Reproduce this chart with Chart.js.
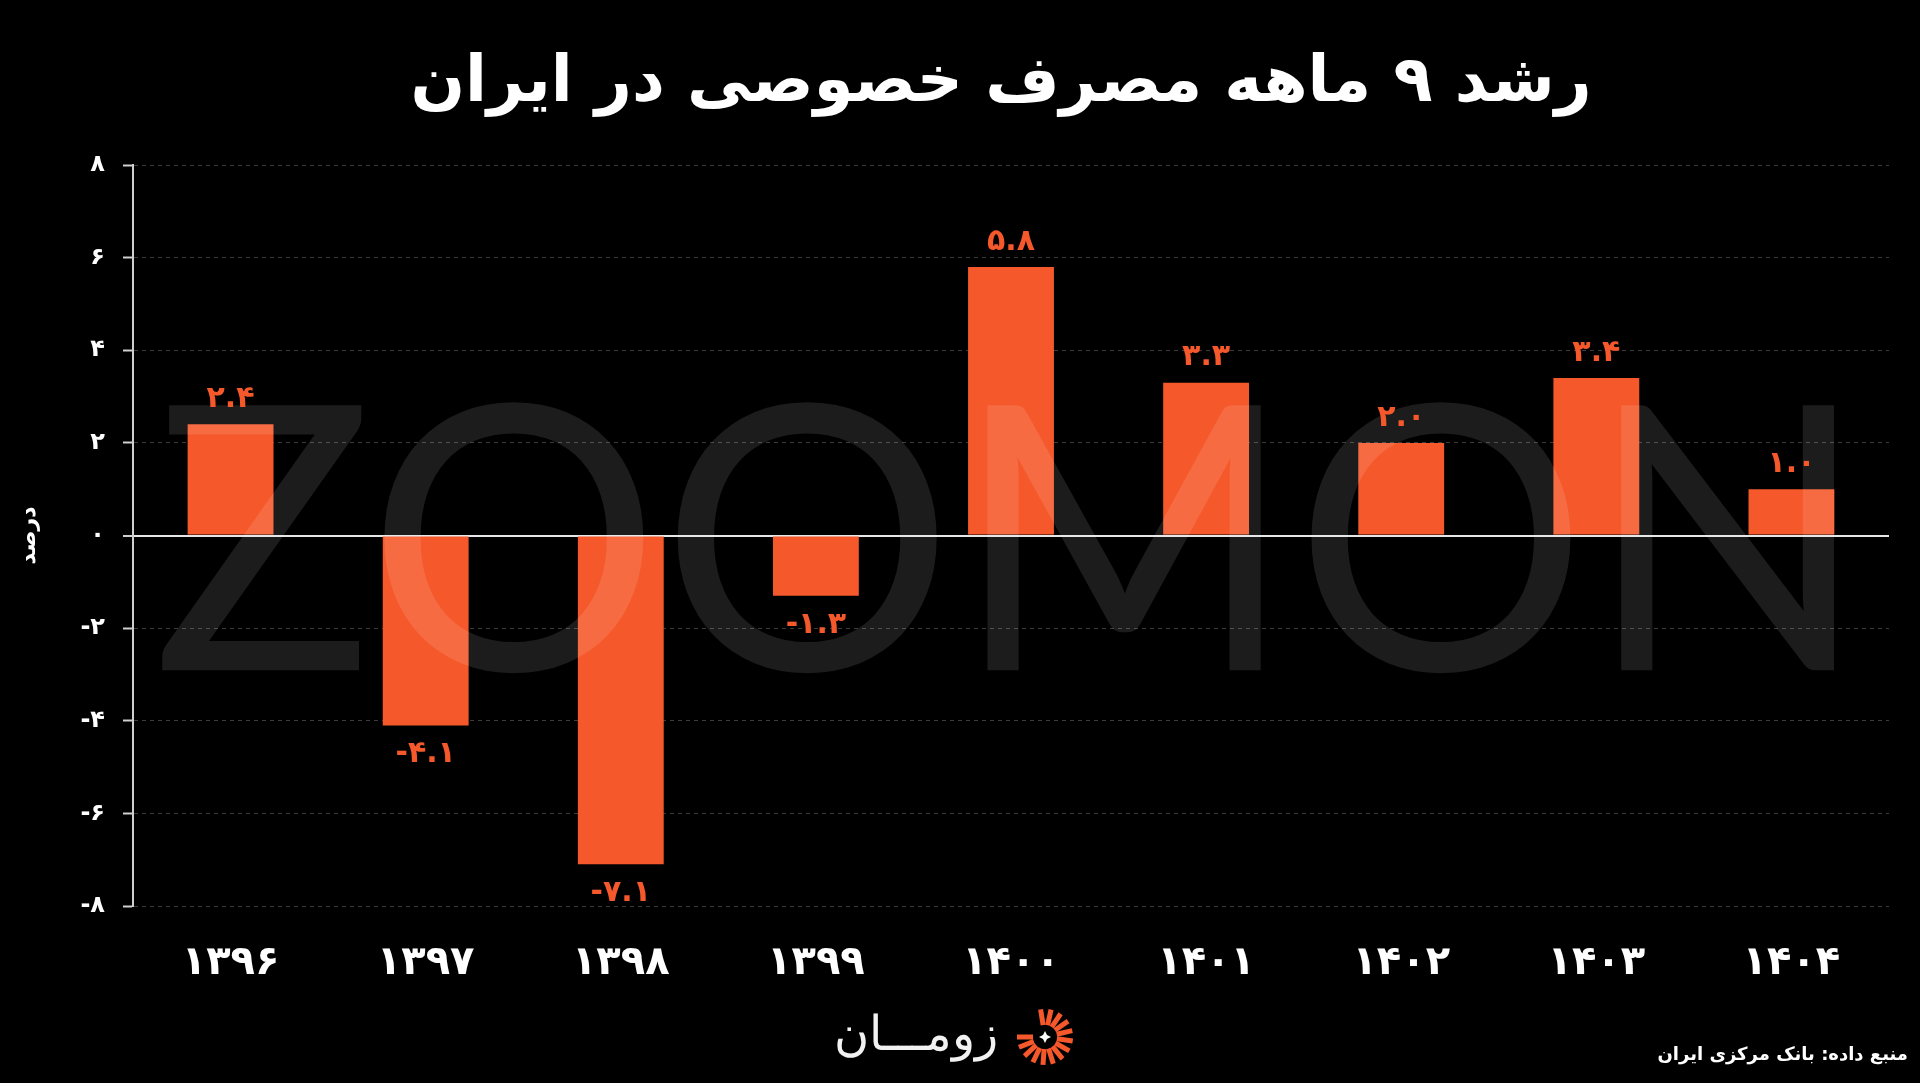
<!DOCTYPE html>
<html lang="fa">
<head>
<meta charset="utf-8">
<script src="https://cdn.jsdelivr.net/npm/chart.js@4"></script>
<style>
  html, body { margin: 0; padding: 0; background: #000; }
  #wrap { width: 1920px; height: 1083px; position: relative; }
</style>
</head>
<body>
<div id="wrap"><canvas id="chart" width="1920" height="1083"></canvas></div>
<script>
// Chart data
const years = ["۱۳۹۶", "۱۳۹۷", "۱۳۹۸", "۱۳۹۹", "۱۴۰۰", "۱۴۰۱", "۱۴۰۲", "۱۴۰۳", "۱۴۰۴"]
const growth = [2.4, -4.1, -7.1, -1.3, 5.8, 3.3, 2.0, 3.4, 1.0]
const yTicks = [-8, -6, -4, -2, 0, 2, 4, 6, 8]

const titleText = "رشد ۹ ماهه مصرف خصوصی در ایران"
const yTitle = "درصد"
const sourceText = "منبع داده: بانک مرکزی ایران"
const brandText = "زومـــان"

const FONT = "'DejaVu Sans', sans-serif"
const ORANGE = "#f5592b"

// Persian digits
function fa(str) {
  return String(str).replace(/[0-9]/g, (d) => "۰۱۲۳۴۵۶۷۸۹"[d])
}

// Title drawn by hand so it can sit a bit right of centre like the original
const titleBox = {
  id: "titleBox",
  afterDraw(chart) {
    const { ctx } = chart
    ctx.save()
    ctx.fillStyle = "#fff"
    ctx.font = "bold 64px " + FONT
    ctx.textAlign = "center"
    ctx.textBaseline = "middle"
    ctx.fillText(titleText, 1001, 84)
    ctx.restore()
  },
}

// Big watermark over bars
const watermark = {
  id: "watermark",
  afterDatasetsDraw(chart) {
    const { ctx } = chart
    ctx.save()
    ctx.fillStyle = "rgba(255,255,255,0.11)"
    ctx.font = "400 370px Lato, 'DejaVu Sans', sans-serif"
    ctx.textAlign = "center"
    ctx.textBaseline = "middle"
    const text = "ZOOMON"
    const w = ctx.measureText(text).width
    const target = 1715
    ctx.translate(1010, 551)
    ctx.scale(target / w, 1)
    ctx.fillText(text, 0, 0)
    ctx.restore()
  },
}

// Value labels above / below bars
const valueLabels = {
  id: "valueLabels",
  afterDatasetsDraw(chart) {
    const { ctx } = chart
    const meta = chart.getDatasetMeta(0)
    ctx.save()
    ctx.fillStyle = ORANGE
    ctx.font = "bold 30px " + FONT
    ctx.textAlign = "center"
    meta.data.forEach((bar, i) => {
      const v = growth[i]
      const label = fa(v.toFixed(1))
      if (v >= 0) {
        ctx.textBaseline = "bottom"
        ctx.fillText(label, bar.x, bar.y - 10)
      } else {
        ctx.textBaseline = "top"
        ctx.fillText(label, bar.x, bar.y + 14)
      }
    })
    ctx.restore()
  },
}

// Footer: brand logo and source
const footer = {
  id: "footer",
  afterDraw(chart) {
    const { ctx } = chart
    ctx.save()
    // source
    ctx.fillStyle = "#fff"
    ctx.font = "bold 18px " + FONT
    ctx.textAlign = "right"
    ctx.textBaseline = "middle"
    ctx.fillText(sourceText, 1908, 1055)

    // brand text
    ctx.font = "300 48px " + FONT
    ctx.textAlign = "right"
    ctx.fillStyle = "#f2f2f2"
    ctx.fillText(brandText, 998, 1038)

    // brand icon: rays around a small star
    const cx = 1045, cy = 1037
    ctx.strokeStyle = ORANGE
    ctx.lineWidth = 5
    for (let k = 0; k < 14; k++) {
      const a = -Math.PI * 0.55 + k * (Math.PI * 1.55 / 13)
      ctx.beginPath()
      ctx.moveTo(cx + Math.cos(a) * 12, cy + Math.sin(a) * 12)
      ctx.lineTo(cx + Math.cos(a) * 28, cy + Math.sin(a) * 28)
      ctx.stroke()
    }
    ctx.fillStyle = "#fff"
    ctx.beginPath()
    ctx.moveTo(cx, cy - 6)
    ctx.lineTo(cx + 2, cy - 2)
    ctx.lineTo(cx + 6, cy)
    ctx.lineTo(cx + 2, cy + 2)
    ctx.lineTo(cx, cy + 6)
    ctx.lineTo(cx - 2, cy + 2)
    ctx.lineTo(cx - 6, cy)
    ctx.lineTo(cx - 2, cy - 2)
    ctx.closePath()
    ctx.fill()
    ctx.restore()
  },
}

Chart.defaults.font.family = FONT
Chart.defaults.color = "#fff"

new Chart(document.getElementById("chart"), {
  type: "bar",
  data: {
    labels: years,
    datasets: [
      {
        data: growth,
        backgroundColor: ORANGE,
        borderWidth: 0,
        barPercentage: 0.44,
        categoryPercentage: 1,
      },
    ],
  },
  options: {
    responsive: false,
    animation: false,
    layout: {
      padding: { top: 165, left: 16, right: 31, bottom: 69 },
    },
    plugins: {
      legend: { display: false },
      tooltip: { enabled: false },
      title: { display: false },
    },
    scales: {
      x: {
        grid: { display: false },
        border: { display: false },
        ticks: {
          color: "#fff",
          font: { size: 40, weight: "bold" },
          padding: 26,
        },
      },
      y: {
        min: -8,
        max: 8,
        afterBuildTicks: (axis) => {
          axis.ticks = yTicks.map((v) => ({ value: v }))
        },
        ticks: {
          color: "#fff",
          font: { size: 24, weight: "bold" },
          padding: 18,
          callback: (v) => fa(v),
        },
        grid: {
          color: (c) => (c.tick && c.tick.value === 0 ? "#e6e6e6" : "#3c3c3c"),
          lineWidth: (c) => (c.tick && c.tick.value === 0 ? 2 : 1),
          tickColor: "#cfcfcf",
          tickLength: 10,
          tickWidth: 2,
        },
        border: {
          display: true,
          color: "#cfcfcf",
          width: 2,
          dash: (c) => (c.tick && c.tick.value === 0 ? [] : [4, 4]),
        },
        title: {
          display: true,
          text: yTitle,
          color: "#fff",
          font: { size: 22, weight: "bold" },
          padding: { top: 0, bottom: 20 },
        },
      },
    },
  },
  plugins: [watermark, valueLabels, footer, titleBox],
})
</script>
</body>
</html>
